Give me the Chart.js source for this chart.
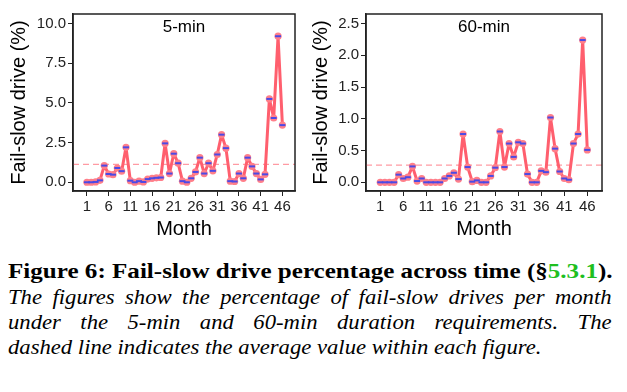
<!DOCTYPE html>
<html>
<head>
<meta charset="utf-8">
<script src="https://cdn.jsdelivr.net/npm/chart.js@4.4.1/dist/chart.umd.min.js"></script>
<style>
  body { margin: 0; background: #fff; width: 627px; height: 392px; position: relative; overflow: hidden; }
  #left { position: absolute; left: 0; top: 0; }
  #right { position: absolute; left: 305px; top: 0; }
  .cap { position: absolute; left: 8px; font-family: "Liberation Serif", "Times New Roman", serif; font-size: 22px; line-height: 24px; color: #000; white-space: nowrap; transform-origin: 0 0; }
  .bold { font-weight: bold; top: 259px; width: 530px; transform: scaleX(1.14); }
  .it { font-style: italic; width: 586px; transform: scaleX(1.03); text-align: justify; text-align-last: justify; }
  .green { color: #1fbf1f; }
</style>
</head>
<body>
<canvas id="left" width="305" height="245"></canvas>
<canvas id="right" width="322" height="245"></canvas>
<div class="cap bold">Figure 6: Fail-slow drive percentage across time (§<span class="green">5.3.1</span>).</div>
<div class="cap it" style="top:285px">The figures show the percentage of fail-slow drives per month</div>
<div class="cap it" style="top:310px">under the 5-min and 60-min duration requirements. The</div>
<div class="cap it" style="top:335px; text-align-last:left">dashed line indicates the average value within each figure.</div>
<script>
// months 1..46
const months = Array.from({length: 46}, (_, i) => i + 1);
const monthTicks = [1, 6, 11, 16, 21, 26, 31, 36, 41, 46];

// percentage of fail-slow drives, 5-min requirement
const fiveMin = [0.0, 0.0, 0.02, 0.12, 1.05, 0.52, 0.48, 0.9, 0.7, 2.2,
  0.1, 0.0, 0.07, 0.02, 0.2, 0.25, 0.28, 0.3, 2.45, 0.55,
  1.8, 1.2, 0.07, 0.0, 0.25, 0.65, 1.55, 0.55, 1.2, 0.72,
  1.75, 3.0, 2.15, 0.07, 0.05, 0.55, 0.25, 1.55, 1.0, 0.55,
  0.18, 0.5, 5.25, 4.05, 9.2, 3.6];
const fiveMinAvg = 1.13;
const fiveMinTicks = [0, 2.5, 5, 7.5, 10];

// percentage of fail-slow drives, 60-min requirement
const sixtyMin = [0.0, 0.0, 0.0, 0.0, 0.12, 0.06, 0.08, 0.25, 0.02, 0.06,
  0.0, 0.0, 0.0, 0.0, 0.06, 0.1, 0.15, 0.05, 0.76, 0.24,
  0.01, 0.03, 0.0, 0.0, 0.1, 0.23, 0.8, 0.24, 0.61, 0.4,
  0.63, 0.61, 0.13, 0.0, 0.0, 0.18, 0.16, 1.02, 0.53, 0.17,
  0.06, 0.04, 0.61, 0.76, 2.24, 0.51];
const sixtyMinAvg = 0.27;
const sixtyMinTicks = [0, 0.5, 1, 1.5, 2, 2.5];

const FONT = '"Liberation Sans", Arial, sans-serif';

const boxPlugin = {
  id: 'box',
  afterDatasetsDraw(chart, args, opts) {
    const {ctx, chartArea: a} = chart;
    ctx.save();
    ctx.strokeStyle = '#222';
    ctx.lineWidth = 1.5;
    ctx.strokeRect(a.left, a.top, a.right - a.left, a.bottom - a.top);
    ctx.font = '17px ' + FONT;
    ctx.fillStyle = '#000';
    ctx.textAlign = 'center';
    ctx.textBaseline = 'middle';
    ctx.fillText(opts.text, (a.left + a.right) / 2, a.top + 13);
    ctx.restore();
  }
};

function makeChart(id, values, avg, yTicks, yMin, yMax, xMin, xMax, yWidth, padLeft, padRight, title) {
  const pts = months.map((m, i) => ({x: m, y: values[i]}));
  return new Chart(document.getElementById(id), {
    type: 'line',
    data: {
      datasets: [
        {
          order: 3,
          data: [{x: xMin, y: avg}, {x: xMax, y: avg}],
          borderColor: '#ff9aa3',
          borderWidth: 1.3,
          borderDash: [6, 4],
          pointRadius: 0
        },
        {
          order: 2,
          data: pts,
          borderColor: '#ff5f6e',
          borderWidth: 3,
          borderJoinStyle: 'round',
          pointRadius: 3.6,
          pointBackgroundColor: '#ff7f8a',
          pointBorderWidth: 0
        },
        {
          order: 1,
          data: pts,
          showLine: false,
          pointStyle: 'line',
          pointRadius: 3,
          pointBorderColor: '#4a4ae6',
          pointBorderWidth: 2
        }
      ]
    },
    options: {
      responsive: false,
      animation: false,
      layout: { padding: { left: padLeft, right: padRight, top: 14, bottom: 0 } },
      plugins: { legend: { display: false }, tooltip: { enabled: false }, box: { text: title } },
      scales: {
        x: {
          type: 'linear',
          min: xMin,
          max: xMax,
          afterBuildTicks: s => { s.ticks = monthTicks.map(v => ({value: v})); },
          afterFit: s => { s.height = 54; },
          grid: { drawOnChartArea: false, color: '#222', tickLength: 5, tickWidth: 1 },
          border: { color: '#222', width: 1.5 },
          ticks: { color: '#222', font: { family: FONT, size: 15 }, padding: 2, maxRotation: 0, autoSkip: false },
          title: { display: true, text: 'Month', color: '#000', font: { family: FONT, size: 20 }, padding: { top: 7 } }
        },
        y: {
          min: yMin,
          max: yMax,
          afterBuildTicks: s => { s.ticks = yTicks.map(v => ({value: v})); },
          afterFit: s => { s.width = yWidth; },
          grid: { drawOnChartArea: false, color: '#222', tickLength: 5, tickWidth: 1 },
          border: { color: '#222', width: 1.5 },
          ticks: { color: '#222', font: { family: FONT, size: 15 }, padding: 2, callback: v => v.toFixed(1) },
          title: { display: true, text: 'Fail-slow drive (%)', color: '#000', font: { family: FONT, size: 20 } }
        }
      }
    },
    plugins: [boxPlugin]
  });
}

makeChart('left', fiveMin, fiveMinAvg, fiveMinTicks, -0.55, 10.6, -2.2, 48.9, 70, 3, 10, '5-min');
makeChart('right', sixtyMin, sixtyMinAvg, sixtyMinTicks, -0.137, 2.65, -2.1, 49.2, 61, 0, 25, '60-min');
</script>
</body>
</html>
